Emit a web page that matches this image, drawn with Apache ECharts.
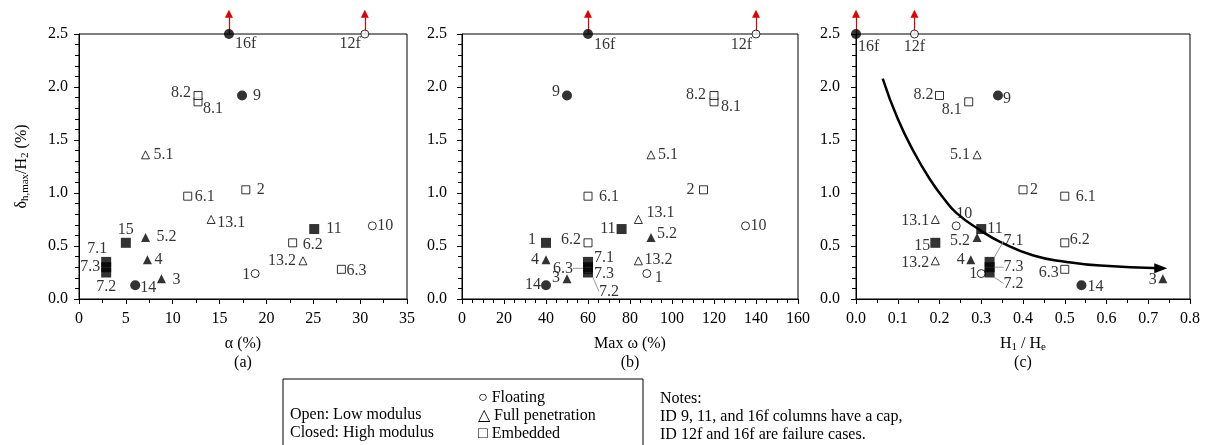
<!DOCTYPE html>
<html>
<head>
<meta charset="utf-8">
<script src="https://cdn.jsdelivr.net/npm/echarts@6/dist/echarts.min.js"></script>
<style>
html, body { margin: 0; padding: 0; background: #fff; }
#main { width: 1206px; height: 445px; }
</style>
</head>
<body>
<div id="main"></div>
<script>
// 试验编号
const ids = ['1', '2', '3', '4', '5.1', '5.2', '6.1', '6.2', '6.3', '7.1', '7.2', '7.3',
	'8.1', '8.2', '9', '10', '11', '12f', '13.1', '13.2', '14', '15', '16f']
// α (%)
const alpha = [18.8, 17.8, 8.8, 7.3, 7.1, 7.1, 11.6, 22.8, 28.0, 2.9, 2.9, 2.9,
	12.7, 12.7, 17.4, 31.3, 25.1, 30.5, 14.1, 23.9, 6.0, 5.0, 16.0]
// Max ω (%)
const maxOmega = [88, 115, 50, 40, 90, 90, 60, 60, 60, 60, 60, 60,
	120, 120, 50, 135, 76, 140, 84, 84, 40, 40, 60]
// H1 / He
const h1He = [0.30, 0.40, 0.735, 0.275, 0.29, 0.29, 0.50, 0.50, 0.50, 0.32, 0.32, 0.32,
	0.27, 0.20, 0.34, 0.24, 0.30, 0.14, 0.19, 0.19, 0.54, 0.19, 0.0]
// δh,max / H2 (%)
const deltaH = [0.24, 1.03, 0.19, 0.37, 1.36, 0.58, 0.97, 0.53, 0.28, 0.35, 0.25, 0.30,
	1.86, 1.92, 1.92, 0.69, 0.66, 2.5, 0.75, 0.36, 0.13, 0.53, 2.5]
// F 悬浮, P 全穿透, E 嵌入
const colType = ['F', 'E', 'P', 'P', 'P', 'P', 'E', 'E', 'E', 'E', 'E', 'E',
	'E', 'E', 'F', 'F', 'E', 'F', 'P', 'P', 'F', 'E', 'F']
// L 低模量(空心), H 高模量(实心)
const modulus = ['L', 'L', 'H', 'H', 'L', 'H', 'L', 'L', 'L', 'H', 'H', 'H',
	'L', 'L', 'H', 'L', 'H', 'L', 'L', 'L', 'H', 'H', 'H']
// 破坏工况，箭头向上
const failIds = ['16f', '12f']
const arrowTop = 2.69
// (c) 趋势线
const curveX = [0.064, 0.10, 0.141, 0.177, 0.208, 0.241, 0.297, 0.345, 0.425, 0.505, 0.585, 0.73]
const curveY = [2.08, 1.70, 1.37, 1.13, 0.96, 0.81, 0.65, 0.54, 0.41, 0.35, 0.315, 0.29]

const FONT = "'Liberation Serif', 'Times New Roman', serif"

/**
 * 标签位置 [dx, dy, align, 文本, 引线]
 */
const labA = {
	'16f': [6, 10, 'left'], '12f': [-4, 10, 'right'], '8.2': [-7, -3, 'right'], '8.1': [5, 7, 'left'],
	'9': [11, 0, 'left'], '5.1': [8, 0, 'left'], '2': [11, 0, 'left'], '6.1': [7, 1, 'left'],
	'13.1': [6, 3, 'left'], '15': [0, -13, 'center'], '5.2': [11, -1, 'left'], '4': [7, 0, 'left'],
	'3': [11, 1, 'left'], '14': [5, 3, 'left'], '7.1': [-9, -13, 'center'], '7.3': [-6, 0, 'right'],
	'7.2': [0, 14, 'center'], '1': [-5, 1, 'right'], '13.2': [-7, 0, 'right'], '6.2': [10, 2, 'left'],
	'11': [12, 0, 'left'], '6.3': [5, 1, 'left'], '10': [5, 0, 'left']
}
const labB = {
	'16f': [6, 11, 'left'], '12f': [-4, 11, 'right'], '9': [-7, -4, 'right'], '8.2': [-8, -1, 'right'],
	'8.1': [7, 5, 'left'], '5.1': [7, 0, 'left'], '2': [-9, 0, 'right'], '6.1': [11, 1, 'left'],
	'13.1': [8, -7, 'left'], '11': [-6, 0, 'right'], '5.2': [6, -4, 'left'], '15': [-10, -3, 'right', '1'],
	'6.2': [-7, -3, 'right'], '4': [-7, 0, 'right'], '7.1': [6, -4, 'left'], '6.3': [-15, -1, 'right', null, true],
	'7.3': [6, 7, 'left'], '7.2': [11, 19, 'left', null, true], '3': [-7, -1, 'right'], '14': [-5, 0, 'right'],
	'13.2': [6, -1, 'left'], '1': [8, 4, 'left'], '10': [5, 0, 'left']
}
const labC = {
	'16f': [2, 13, 'left'], '12f': [0, 13, 'center'], '8.2': [-6, -1, 'right'], '8.1': [-7, 8, 'right'],
	'9': [5, 3, 'left'], '5.1': [-7, 0, 'right'], '2': [7, 0, 'left'], '6.1': [11, 1, 'left'],
	'13.1': [-6, 1, 'right'], '10': [8, -12, 'center'], '11': [6, 0, 'left'], '5.2': [-7, 3, 'right'],
	'7.1': [14, -21, 'left', null, true], '6.2': [5, -3, 'left'], '15': [-5, 3, 'right'], '13.2': [-6, 2, 'right'],
	'4': [-6, 0, 'right'], '7.3': [14, 0, 'left', null, true], '1': [-4, 0, 'right'], '7.2': [14, 11, 'left', null, true],
	'6.3': [-6, 3, 'right'], '14': [6, 2, 'left'], '3': [-6, 1, 'right']
}

const shapeMap = { F: 'circle', P: 'triangle', E: 'rect' }

function markerSize(shape, closed) {
	if (shape === 'circle') return closed ? 10 : 8
	if (shape === 'rect') return closed ? 10 : 8
	return closed ? 9 : 8
}

// 散点
function scatterSeries(idx, xs, labMap) {
	const data = ids.map((id, i) => {
		const closed = modulus[i] === 'H'
		const shape = shapeMap[colType[i]]
		const lab = labMap[id]
		const item = {
			name: id,
			value: [xs[i], deltaH[i]],
			symbol: shape,
			symbolSize: markerSize(shape, closed),
			itemStyle: {
				color: closed ? '#000' : '#fff',
				borderColor: '#000',
				borderWidth: closed ? 0 : 1
			},
			label: {
				formatter: lab[3] || id,
				align: lab[2]
			}
		}
		if (lab[4]) {
			item.labelLine = { show: true, lineStyle: { color: '#999', width: 1 } }
		}
		return item
	})
	return {
		type: 'scatter',
		xAxisIndex: idx,
		yAxisIndex: idx,
		clip: false,
		silent: true,
		z: 4,
		label: {
			show: true,
			position: 'inside',
			verticalAlign: 'middle',
			color: '#000',
			fontFamily: FONT,
			fontSize: 16
		},
		// 标签统一通过 labelLayout 移动
		labelLayout: params => {
			const lab = labMap[ids[params.dataIndex]]
			return { dx: lab[0], dy: lab[1] }
		},
		data: data
	}
}

// 红色箭头
function arrowSeries(idx, xs) {
	return {
		type: 'lines',
		coordinateSystem: 'cartesian2d',
		xAxisIndex: idx,
		yAxisIndex: idx,
		clip: false,
		silent: true,
		z: 3,
		symbol: ['none', 'triangle'],
		symbolSize: 8,
		lineStyle: { color: '#e00000', width: 1.2, opacity: 1 },
		data: failIds.map(id => {
			const i = ids.indexOf(id)
			return { coords: [[xs[i], deltaH[i]], [xs[i], arrowTop]] }
		})
	}
}

const richName = {
	n: { fontFamily: FONT, fontSize: 16, color: '#000', lineHeight: 19 },
	s: { fontFamily: FONT, fontSize: 11, color: '#000', verticalAlign: 'bottom', padding: [7, 0, 0, 0] }
}

function xAxisOf(idx, min, max, interval, minorSplit, name, fmt) {
	return {
		type: 'value',
		gridIndex: idx,
		min: min,
		max: max,
		interval: interval,
		name: name,
		nameLocation: 'middle',
		nameGap: 35,
		nameTextStyle: { fontFamily: FONT, fontSize: 16, color: '#000', lineHeight: 19, rich: richName },
		axisLine: { show: true, onZero: false, lineStyle: { color: '#000', width: 1 } },
		axisTick: { show: true, length: 5, lineStyle: { color: '#000' } },
		minorTick: { show: true, splitNumber: minorSplit, length: 4, lineStyle: { color: '#000' } },
		splitLine: { show: false },
		axisLabel: { margin: 12, fontFamily: FONT, fontSize: 16, color: '#000', formatter: fmt }
	}
}

function yAxisOf(idx, margin, name) {
	return {
		type: 'value',
		gridIndex: idx,
		min: 0,
		max: 2.5,
		interval: 0.5,
		name: name || '',
		nameLocation: 'middle',
		nameGap: 48,
		nameRotate: 90,
		nameTextStyle: { fontFamily: FONT, fontSize: 16, color: '#000', rich: richName },
		axisLine: { show: true, onZero: false, lineStyle: { color: '#000', width: 1 } },
		axisTick: { show: true, length: 5, lineStyle: { color: '#000' } },
		minorTick: { show: true, splitNumber: 5, length: 4, lineStyle: { color: '#000' } },
		splitLine: { show: false },
		axisLabel: { margin: margin, fontFamily: FONT, fontSize: 16, color: '#000', formatter: v => v.toFixed(1) }
	}
}

const gridBase = { top: 34, height: 265, show: true, borderColor: '#000', borderWidth: 1, backgroundColor: 'transparent' }

const legendText = (x, y, text) => ({
	type: 'text', left: x, top: y,
	style: { text: text, font: '16px ' + FONT, fill: '#000', verticalAlign: 'middle' }
})

const option = {
	animation: false,
	backgroundColor: '#fff',
	grid: [
		Object.assign({ left: 79, width: 328 }, gridBase),
		Object.assign({ left: 462, width: 336 }, gridBase),
		Object.assign({ left: 856, width: 334 }, gridBase)
	],
	xAxis: [
		xAxisOf(0, 0, 35, 5, 2, '{n|α (%)}\n{n|(a)}', v => v),
		xAxisOf(1, 0, 160, 20, 4, '{n|Max ω (%)}\n{n|(b)}', v => v),
		xAxisOf(2, 0, 0.8, 0.1, 2, '{n|H}{s|1}{n| / H}{s|e}\n{n|(c)}', v => v.toFixed(1))
	],
	yAxis: [
		yAxisOf(0, 11, '{n|δ}{s|h,max}{n|/H}{s|2}{n| (%)}'),
		yAxisOf(1, 15),
		yAxisOf(2, 16)
	],
	series: [
		arrowSeries(0, alpha),
		arrowSeries(1, maxOmega),
		arrowSeries(2, h1He),
		{
			type: 'line',
			xAxisIndex: 2,
			yAxisIndex: 2,
			silent: true,
			z: 2,
			smooth: 0.5,
			showSymbol: true,
			symbol: 'triangle',
			symbolSize: (v, p) => p.dataIndex === curveX.length - 1 ? [10, 13] : 0,
			symbolRotate: -90,
			lineStyle: { color: '#000', width: 2.5 },
			itemStyle: { color: '#000' },
			data: curveX.map((x, i) => [x, curveY[i]])
		},
		scatterSeries(0, alpha, labA),
		scatterSeries(1, maxOmega, labB),
		scatterSeries(2, h1He, labC)
	],
	graphic: [
		{
			type: 'rect',
			shape: { x: 283, y: 379, width: 360, height: 90 },
			style: { fill: 'none', stroke: '#000', lineWidth: 1 }
		},
		legendText(290, 407, 'Open: Low modulus'),
		legendText(290, 425, 'Closed: High modulus'),
		legendText(478, 390, '○ Floating'),
		legendText(478, 408, '△ Full penetration'),
		legendText(478, 426, '□ Embedded'),
		legendText(660, 391, 'Notes:'),
		legendText(660, 409, 'ID 9, 11, and 16f columns have a cap,'),
		legendText(660, 427, 'ID 12f and 16f are failure cases.')
	]
}

const chart = echarts.init(document.getElementById('main'))
chart.setOption(option)
</script>
</body>
</html>
